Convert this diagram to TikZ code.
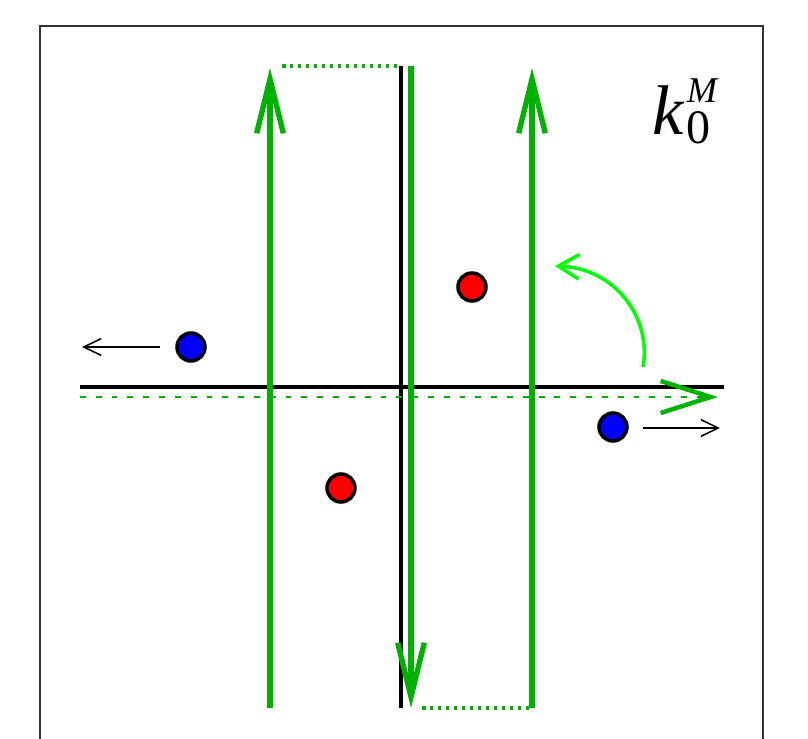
\documentclass[tikz,border=0pt]{standalone}
\usepackage{amsmath}
\usepackage{fontspec}
\setmainfont{Liberation Serif}
\usetikzlibrary{arrows.meta}
\definecolor{dgreen}{RGB}{0,178,0}
\definecolor{lgreen}{RGB}{0,255,0}

\begin{document}
\begin{tikzpicture}[x=0.03cm, y=-0.03cm,
  axis/.style={line width=3.3pt, black},
  field/.style={line width=4.6pt, dgreen, -{Straight Barb[length=1.62cm, width=0.8cm]}},
  link/.style={line width=3pt, dgreen, dash pattern=on 3pt off 3.8pt},
  charge/.style={circle, draw=black, line width=3pt, minimum size=0.84cm, inner sep=0pt},
  push/.style={line width=1.3pt, black, -{Straight Barb[length=0.52cm, width=0.5cm]}}]

%---------------------------------------
% Page and frame
%---------------------------------------
\useasboundingbox (0,0) rectangle (808,739);
\clip (0,0) rectangle (808,739);
\draw[line width=1.1pt, black!80] (40,26) rectangle (763,770);

\def\xL{270}
\def\xM{411}
\def\xR{532}
\def\yT{66}
\def\yB{708}

%---------------------------------------
% Axes
%---------------------------------------
\coordinate (axW) at (80,387);
\coordinate (axE) at (724,387);
\coordinate (axN) at (401,\yT);
\coordinate (axS) at (401,\yB);
\draw[axis] (axW) -- (axE);
\draw[axis] (axN) -- (axS);

% dashed line along the axis
\coordinate (dW) at (80,397);
\coordinate (dE) at (718,397);
\draw[dgreen, line width=2pt, dash pattern=on 5pt off 8.5pt,
      -{Straight Barb[length=1.5cm, width=0.96cm, line width=3.8pt]}] (dW) -- (dE);

%---------------------------------------
% Field lines
%---------------------------------------
\coordinate (LB) at (\xL,\yB);
\coordinate (LT) at (\xL,68);
\coordinate (MT) at (\xM,\yT);
\coordinate (MB) at (\xM,\yB);
\coordinate (RB) at (\xR,\yB);
\coordinate (RT) at (\xR,68);
\draw[field] (LB) -- (LT);
\draw[field] (MT) -- (MB);
\draw[field] (RB) -- (RT);

% dotted joins
\coordinate (jTa) at (282,\yT);
\coordinate (jTb) at (398,\yT);
\coordinate (jBa) at (422,\yB);
\coordinate (jBb) at (531,\yB);
\draw[link] (jTa) -- (jTb);
\draw[link] (jBa) -- (jBb);

% rotation
\coordinate (rotA) at (643,367);
\coordinate (rotB) at (555,266);
\draw[lgreen, line width=3pt, -{Straight Barb[length=0.62cm, width=0.74cm]}]
  (rotA) .. controls (652,318) and (615,268) .. (rotB);

%---------------------------------------
% Charges
%---------------------------------------
\node[charge, fill=blue] (b1) at (191,347) {};
\node[charge, fill=red]  (r1) at (472,287) {};
\node[charge, fill=red]  (r2) at (341,488) {};
\node[charge, fill=blue] (b2) at (613,427) {};

\coordinate (b1start) at (160,347);
\coordinate (b1end) at (82,347);
\coordinate (b2start) at (643,428);
\coordinate (b2end) at (720,428);
\draw[push] (b1start) -- (b1end);
\draw[push] (b2start) -- (b2end);

% label
\node[anchor=base west, inner sep=0pt] (lbl) at (652,135)
  {\fontsize{60}{62}\selectfont\textit{k}\kern2pt\rlap{\raisebox{28pt}{\fontsize{31}{32}\selectfont\textit{M}}}\raisebox{-7pt}{\fontsize{41}{42}\selectfont 0}};

\end{tikzpicture}
\end{document}
